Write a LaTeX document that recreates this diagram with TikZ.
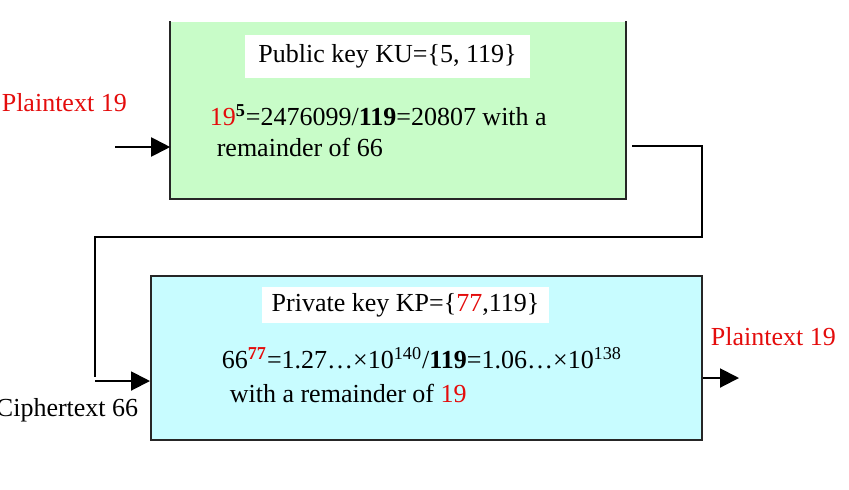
\documentclass[tikz,border=0pt]{standalone}
\usepackage{fontspec}
\setmainfont{Liberation Serif}
\usetikzlibrary{arrows.meta}
\definecolor{boxgreen}{RGB}{200,252,200}
\definecolor{boxcyan}{RGB}{200,252,255}
\definecolor{txtred}{RGB}{228,12,12}
\tikzstyle{keybox}=[rectangle, draw=black!85, line width=1pt, inner sep=0pt]
\tikzstyle{keyname}=[rectangle, fill=white, inner sep=0pt, font=\fontsize{13}{15.6}\selectfont]
\tikzstyle{calcline}=[inner sep=0pt, font=\fontsize{13}{15.6}\selectfont]
\tikzstyle{flow}=[line width=1pt, -{Triangle[length=9.5pt, width=9.5pt]}]
\newcommand{\rd}[1]{\textcolor{txtred}{#1}}

\begin{document}
\begin{tikzpicture}[x=0.5pt, y=-0.5pt, thick]
                    \useasboundingbox (0,0) rectangle (849,489);
                    % encryption and decryption boxes
                    \node[rectangle, fill=boxgreen, inner sep=0pt, minimum width=227pt, minimum height=88pt] (enc) at (398, 110) {};
                    \draw[black!85, line width=1pt] (enc.north west)--(enc.south west)--(enc.south east)--(enc.north east);
                    \node[keybox, fill=boxcyan, minimum width=275.5pt, minimum height=82pt] (dec) at (426.5, 358) {};
                    \node[keyname, minimum width=142.5pt, minimum height=21.5pt] (ku) at (387.5, 56.5) {Public key KU=\{5, 119\}};
                    \node[keyname, minimum width=143.5pt, minimum height=18pt] (kp) at (405.5, 305) {Private key KP=\{\rd{77},119\}};
                    \node[calcline, anchor=west] (enc1) at (209, 115) {\rd{19}\textsuperscript{\textbf{5}}=2476099/\textbf{119}=20807 with a};
                    \node[calcline, anchor=west] (enc2) at (216, 147) {remainder of 66};
                    \node[calcline, anchor=west] (dec1) at (221, 358) {66\textsuperscript{\textbf{\rd{77}}}=1.27…×10\textsuperscript{140}/\textbf{119}=1.06…×10\textsuperscript{138}};
                    \node[calcline, anchor=west] (dec2) at (229, 393) {with a remainder of \rd{19}};
                    % texts outside
                    \node[calcline, anchor=west, text=txtred] (pin) at (1, 103) {Plaintext 19};
                    \node[calcline, anchor=east] (cin) at (139, 410) {Ciphertext 66};
                    \node[calcline, anchor=west, text=txtred] (pout) at (710, 337) {Plaintext 19};
                    % connectors
                    \coordinate (in) at (115, 147);
                    \coordinate (e1) at (632, 146);
                    \coordinate (e2) at (702, 146);
                    \coordinate (e3) at (702, 237);
                    \coordinate (e4) at (95, 237);
                    \coordinate (e5) at (95, 377);
                    \coordinate (d1) at (95, 381);
                    \coordinate (out) at (739, 378);
                    \draw[flow] (in)--(in -| enc.west);
                    \draw[line width=1pt] (e1)--(e2)--(e3)--(e4)--(e5);
                    \draw[flow] (d1)--(d1 -| dec.west);
                    \draw[flow] (out -| dec.east)--(out);
                \end{tikzpicture}
\end{document}
